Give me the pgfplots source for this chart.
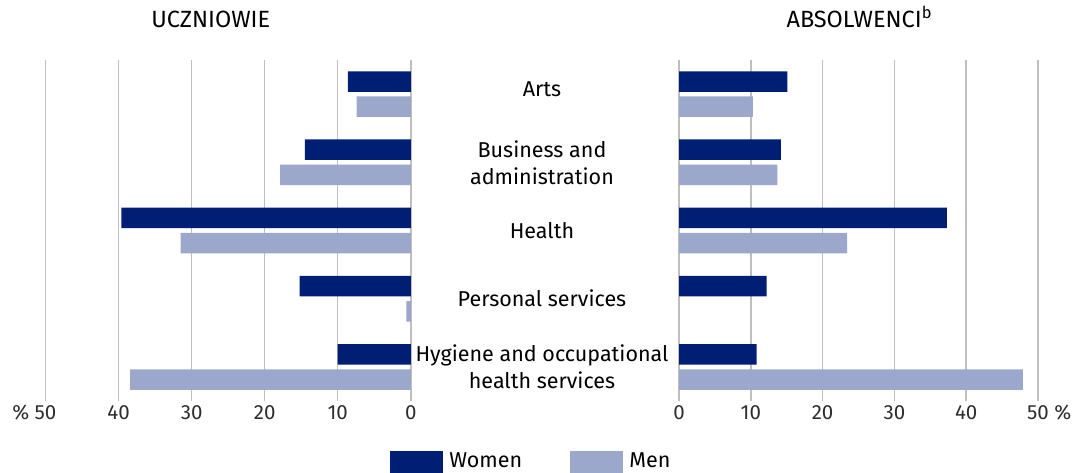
\documentclass[border=0pt]{standalone}
\usepackage{fontspec}
\setmainfont{Fira Sans}
\usepackage{pgfplots}
\pgfplotsset{compat=1.18}
\usepackage{pgfplotstable}

\definecolor{women}{RGB}{0,30,115}
\definecolor{men}{RGB}{155,168,203}
\definecolor{gridgray}{RGB}{191,191,191}
\definecolor{txt}{RGB}{45,45,45}

% pos: 4 = Arts ... 0 = Hygiene
\pgfplotstableread{
pos women men
4   8.6   7.4
3   14.5  17.9
2   39.6  31.5
1   15.2  0.6
0   10.0  38.4
}\uczniowie

\pgfplotstableread{
pos women men
4   15.1  10.3
3   14.2  13.7
2   37.3  23.4
1   12.2  0
0   10.8  47.9
}\absolwenci

\pgfplotsset{
  panel/.style={
    scale only axis,
    height=170.5pt,
    xmin=0, xmax=50,
    ymin=-0.5, ymax=4.5,
    xtick={0,10,...,50},
    xbar,
    bar width=10.25pt,
    axis line style={draw=none},
    major tick length=0pt,
    xmajorgrids,
    grid style={draw=gridgray, line width=0.75pt},
    font=\fontsize{10.75}{13.5}\selectfont,
    tick label style={text=txt},
    xticklabel style={font=\fontsize{10.25}{12}\selectfont, anchor=center, yshift=-6pt},
    /pgf/number format/assume math mode=true,
    xticklabel shift=0pt, yticklabel shift=0pt,
    clip=false,
  }
}

\begin{document}
\begin{tikzpicture}
\begin{axis}[panel,
  at={(22.75pt,35.5pt)}, anchor=south west,
  width=182.65pt,
  x dir=reverse,
  ytick=\empty,
  xticklabels={0,10,20,30,40,{\llap{\%\ }50}},
  title={UCZNIOWIE},
  title style={at={(0.4525,1)}, anchor=base, yshift=10.2pt, font=\fontsize{11.75}{13}\selectfont},
  legend columns=2,
  legend image code/.code={\fill[#1] (0pt,-5.5pt) rectangle (26.5pt,5.5pt);},
  legend style={draw=none, fill=none, inner sep=0pt, at={(0.943,-0.179)}, anchor=west,
    nodes={inner sep=0pt}, cells={anchor=west},
    /tikz/every odd column/.append style={column sep=3pt},
    font=\fontsize{10.75}{12}\selectfont},
]
\addplot[fill=women, draw=none, bar shift=6.3pt] table[x=women, y=pos] {\uczniowie};
\addplot[fill=men, draw=none, bar shift=-6.3pt] table[x=men, y=pos] {\uczniowie};
\legend{\makebox[60.5pt][l]{Women}, Men}
\end{axis}

\begin{axis}[panel,
  at={(339.5pt,35.5pt)}, anchor=south west,
  width=179.5pt,
  xticklabels={0,10,20,30,40,{50\rlap{\ \%}}},
  ytick={0,1,2,3,4},
  yticklabels={{Hygiene and occupational\\health services},{Personal services},{\raisebox{-1pt}{Health}},{Business and\\administration},{\raisebox{5.5pt}{Arts}}},
  yticklabel style={align=center, anchor=center, xshift=-68.5pt, text=black, font=\fontsize{10.75}{13.5}\selectfont},
  title={ABSOLWENCI\textsuperscript{b}},
  title style={at={(0.503,1)}, anchor=base, yshift=10.2pt, font=\fontsize{11.75}{13}\selectfont},
]
\addplot[fill=women, draw=none, bar shift=6.3pt] table[x=women, y=pos] {\absolwenci};
\addplot[fill=men, draw=none, bar shift=-6.3pt] table[x=men, y=pos] {\absolwenci};
\end{axis}

\pgfresetboundingbox
\useasboundingbox (0,0) rectangle (536pt,236pt);
\end{tikzpicture}
\end{document}
